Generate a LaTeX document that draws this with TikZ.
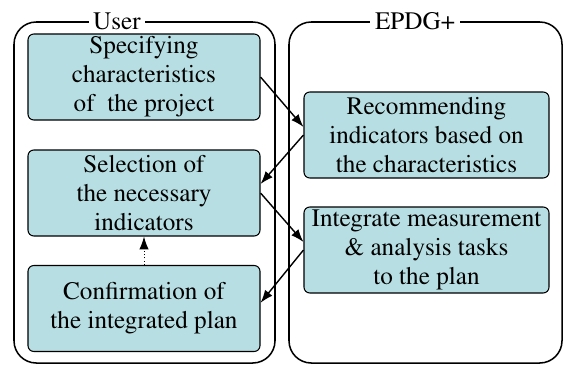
\documentclass[tikz,border=0pt]{standalone}
\usepackage[T1]{fontenc}
\usepackage{mathptmx}
\usetikzlibrary{arrows.meta, positioning}
\definecolor{taskcyan}{HTML}{B7DEE2}

\begin{document}
\begin{tikzpicture}[
    x=0.03cm, y=-0.03cm,
    lane/.style={draw, line width=1.3pt, rounded corners=19pt, minimum height=10.23cm},
    lanetitle/.style={fill=white, inner xsep=4pt, inner ysep=0pt, font=\fontsize{21.5}{24}\selectfont},
    task/.style={draw, line width=0.9pt, fill=taskcyan, rounded corners=5pt, minimum height=2.58cm,
                 align=center, inner sep=0pt, font=\fontsize{21.5}{24.7}\selectfont},
    flow/.style={line width=1.2pt, -{Latex[length=11pt, width=8pt]}},
]
    \useasboundingbox (0,0) rectangle (563,365);

    % Lanes
    \node[lane, minimum width=7.83cm] (user) at (144.5,192.5) {};
    \node[lane, minimum width=8.19cm] (epdg) at (425.5,192.5) {};
    \node[lanetitle] (usertitle) at (117,21) {User};
    \node[lanetitle] (epdgtitle) at (415,21) {EPDG+};

    % User tasks
    \node[task, minimum width=6.96cm] (specify) at (144,77) {Specifying\\characteristics\\of~ the project};
    \node[task, minimum width=6.96cm] (select) at (144,193) {Selection of\\the necessary\\indicators};
    \node[task, minimum width=6.96cm] (confirm) at (144,308.5) {Confirmation of\\the integrated plan};

    % EPDG+ tasks
    \node[task, minimum width=7.35cm] (recommend) at (426.5,135) {Recommending\\indicators based on\\the characteristics};
    \node[task, minimum width=7.35cm] (integrate) at (426.5,250) {Integrate measurement\\\& analysis tasks\\to the plan};

    % Flow
    \draw[flow] (specify.east) -- ([yshift=0.24cm]recommend.west);
    \draw[flow] (recommend.west) -- ([yshift=0.27cm]select.east);
    \draw[flow] (select.east) -- ([yshift=0.24cm]integrate.west);
    \draw[flow] (integrate.west) -- ([yshift=0.17cm]confirm.east);
    \draw[flow, line width=0.8pt, dotted] (confirm.north) -- (select.south);
\end{tikzpicture}
\end{document}
